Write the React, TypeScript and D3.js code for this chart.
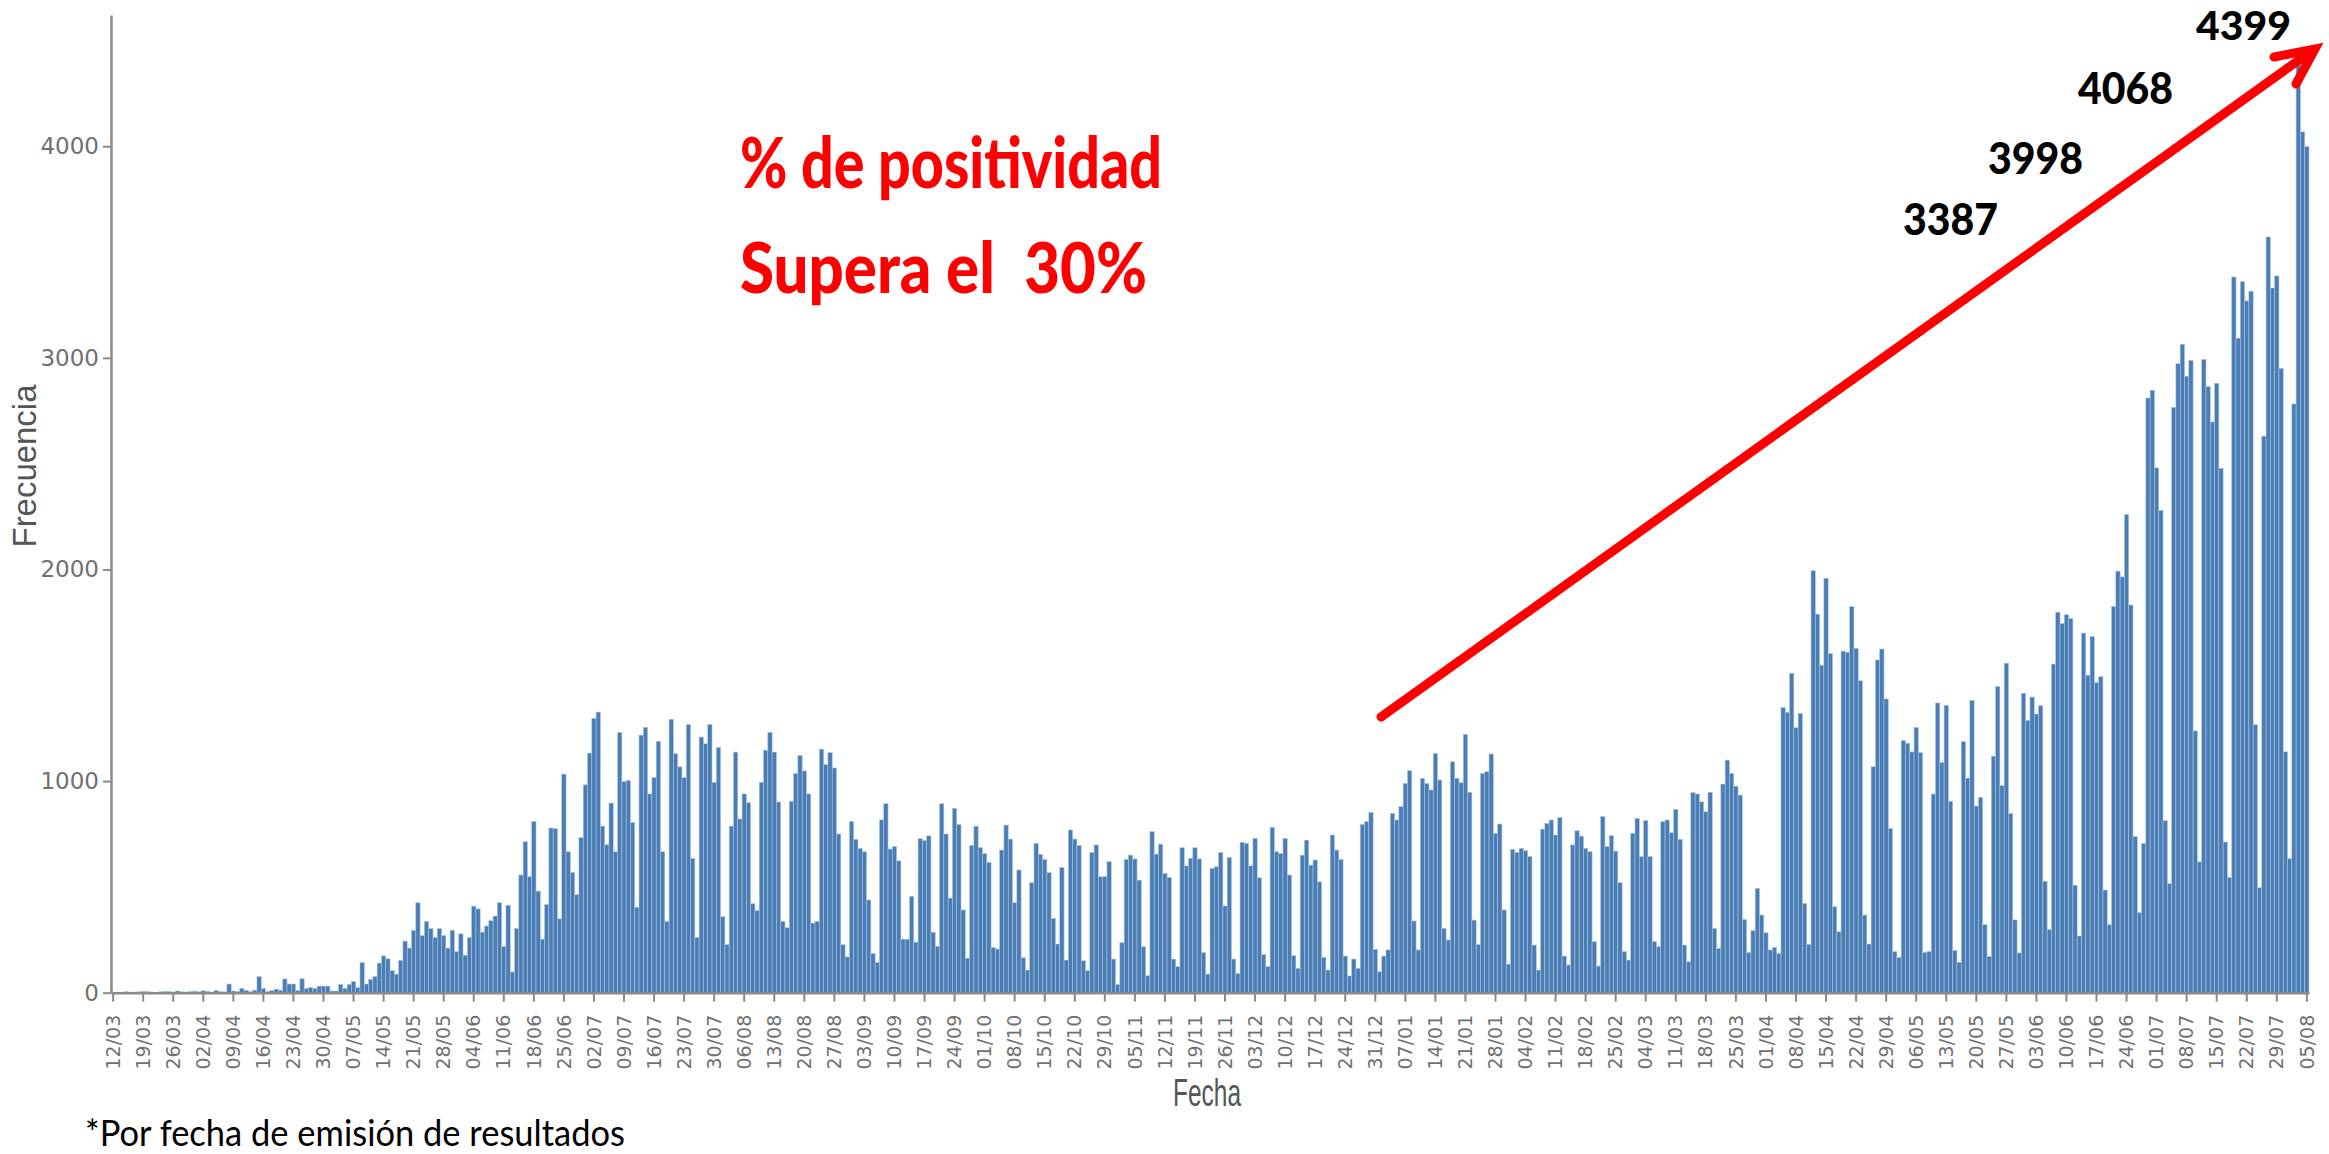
import React, { useEffect, useRef } from "react";
import * as d3 from "d3";

// daily counts by result date, first day = 12/03/2020
const startDate = new Date(2020, 2, 12);

const mar2020 = [2, 3, 1, 5, 2, 3, 4, 6, 5, 3, 2, 4, 6, 5, 3, 8, 4, 3, 5, 7];
const apr2020 = [4, 9, 6, 3, 10, 5, 4, 41, 8, 6, 20, 10, 5, 12, 76, 20, 6, 10, 17, 12, 65, 41, 41, 10, 66, 20, 25, 20, 31, 31];
const may2020 = [31, 8, 8, 39, 20, 39, 52, 24, 142, 41, 63, 76, 140, 174, 160, 104, 88, 152, 244, 211, 295, 425, 270, 337, 303, 261, 303, 270, 211, 295, 194];
const jun2020 = [278, 177, 261, 409, 396, 286, 315, 340, 362, 425, 219, 413, 98, 303, 556, 713, 548, 809, 480, 253, 416, 778, 775, 349, 1033, 666, 568, 463, 733, 982];
const jul2020 = [1132, 1297, 1326, 787, 699, 896, 666, 1230, 998, 1003, 804, 404, 1217, 1254, 939, 1016, 1188, 666, 337, 1292, 1129, 1067, 1016, 1267, 635, 261, 1208, 1176, 1267, 994, 1159];
const aug2020 = [359, 227, 787, 1137, 821, 939, 898, 421, 388, 994, 1146, 1230, 1137, 901, 337, 307, 905, 1036, 1121, 1048, 939, 329, 337, 1151, 1078, 1134, 1062, 750, 227, 169, 809];
const sep2020 = [725, 682, 666, 438, 185, 143, 817, 893, 679, 691, 623, 253, 253, 455, 239, 728, 719, 741, 286, 219, 893, 750, 447, 871, 795, 391, 163, 696, 787, 686];
const oct2020 = [658, 616, 213, 206, 674, 792, 726, 425, 580, 165, 107, 520, 706, 654, 630, 567, 351, 230, 592, 154, 769, 726, 695, 151, 104, 663, 698, 548, 548, 619, 159];
const nov2020 = [39, 236, 630, 650, 632, 532, 217, 80, 761, 655, 702, 564, 545, 159, 123, 685, 599, 635, 685, 632, 189, 88, 587, 595, 663, 410, 639, 159, 91, 710];
const dec2020 = [706, 599, 729, 543, 181, 123, 781, 666, 658, 729, 556, 175, 115, 650, 721, 603, 627, 524, 167, 107, 745, 674, 630, 173, 79, 159, 115, 795, 808, 852, 205];
const jan2021 = [99, 173, 202, 847, 816, 879, 989, 1049, 339, 202, 1013, 989, 958, 1131, 1005, 304, 249, 1091, 1013, 992, 1221, 947, 343, 228, 1036, 1044, 1128, 753, 797, 391, 135];
const feb2021 = [677, 663, 682, 671, 643, 225, 107, 773, 800, 816, 745, 828, 173, 131, 698, 765, 740, 682, 666, 241, 126, 832, 690, 742, 669, 520, 194, 154];
const mar2021 = [753, 824, 643, 813, 643, 241, 217, 808, 816, 756, 866, 725, 225, 146, 945, 939, 902, 855, 947, 304, 209, 986, 1099, 1036, 976, 934, 346, 189, 293, 493, 367];
const apr2021 = [283, 202, 214, 186, 1348, 1325, 1509, 1252, 1320, 422, 228, 1994, 1789, 1548, 1958, 1603, 406, 288, 1614, 1608, 1824, 1627, 1474, 367, 230, 1068, 1572, 1624, 1388, 776];
const may2021 = [194, 167, 1191, 1179, 1138, 1253, 1134, 190, 195, 939, 1369, 1088, 1358, 905, 199, 144, 1186, 1014, 1381, 882, 923, 321, 172, 1118, 1447, 978, 1557, 847, 344, 188, 1415];
const jun2021 = [1287, 1397, 1317, 1356, 527, 298, 1553, 1798, 1745, 1786, 1768, 508, 268, 1699, 1500, 1683, 1466, 1493, 485, 321, 1825, 1992, 1965, 2260, 1832, 737, 378, 705, 2810, 2847];
const jul2021 = [2480, 2279, 813, 515, 2766, 2972, 3064, 2913, 2988, 1237, 618, 2992, 2864, 2697, 2880, 2478, 712, 545, 3382, 3093, 3360, 3269, 3315, 1266, 496, 2630, 3571, 3330, 3387, 2950, 1138];
const aug2021 = [633, 2782, 4399, 4068, 3998];

const dailyCounts = [
  ...mar2020, ...apr2020, ...may2020, ...jun2020, ...jul2020, ...aug2020,
  ...sep2020, ...oct2020, ...nov2020, ...dec2020, ...jan2021, ...feb2021,
  ...mar2021, ...apr2021, ...may2021, ...jun2021, ...jul2021, ...aug2021
];

const yTicks = [0, 1000, 2000, 3000, 4000];
const tickEveryDays = 7;

const titleLines = ["% de positividad", "Supera el  30%"];
const callouts = ["3387", "3998", "4068", "4399"];
const yLabel = "Frecuencia";
const xLabel = "Fecha";
const footnote = "*Por fecha de emisión de resultados";

const W = 2329;
const H = 1154;

function App() {
  const svgRef = useRef<SVGSVGElement>(null);

  useEffect(() => {
    document.body.style.margin = "0";
    const svg = d3.select(svgRef.current);
    svg.selectAll("*").remove();

    const dates = d3.timeDay.range(startDate, d3.timeDay.offset(startDate, dailyCounts.length));
    const keyFmt = d3.timeFormat("%Y-%m-%d");
    const labelFmt = d3.timeFormat("%d/%m");
    const rows = dates.map((d, i) => ({ key: keyFmt(d), date: d, value: dailyCounts[i] }));

    // scales
    const x = d3.scaleBand<string>()
      .domain(rows.map(r => r.key))
      .range([111, 2309])
      .padding(0);
    const y = d3.scaleLinear().domain([0, 4620]).range([992.7, 15]);

    // bars
    svg.append("g")
      .selectAll("rect")
      .data(rows)
      .join("rect")
      .attr("x", r => x(r.key)!)
      .attr("width", x.bandwidth())
      .attr("y", r => y(r.value))
      .attr("height", r => y(0) - y(r.value))
      .attr("fill", "#4a7db4")
      .attr("stroke", "#a8c4e2")
      .attr("stroke-width", 0.6);

    // y axis
    const yAxis = svg.append("g")
      .attr("transform", "translate(111,0)")
      .call(d3.axisLeft(y).tickValues(yTicks).tickSize(8).tickSizeOuter(0).tickPadding(4).tickFormat(d3.format("d")));
    yAxis.select(".domain").attr("stroke", "#8a8a8a").attr("stroke-width", 2.5);
    yAxis.selectAll(".tick line").attr("stroke", "#8a8a8a").attr("stroke-width", 2);
    yAxis.selectAll(".tick text")
      .attr("fill", "#707070")
      .attr("font-family", "'DejaVu Sans', Verdana, sans-serif")
      .attr("font-size", 23);

    // x axis, a tick each week
    const tickKeys = rows.filter((_, i) => i % tickEveryDays === 0).map(r => r.key);
    const byKey = new Map(rows.map(r => [r.key, r.date]));
    const xAxis = svg.append("g")
      .attr("transform", "translate(0,992.7)")
      .call(d3.axisBottom(x).tickValues(tickKeys).tickSize(9).tickSizeOuter(0)
        .tickFormat(k => labelFmt(byKey.get(k as string)!)));
    xAxis.select(".domain").attr("stroke", "#8a8a8a").attr("stroke-width", 2.5);
    xAxis.selectAll(".tick line").attr("stroke", "#8a8a8a").attr("stroke-width", 2);
    xAxis.selectAll(".tick text")
      .attr("transform", "rotate(-90)")
      .attr("text-anchor", "end")
      .attr("x", -22)
      .attr("y", 0)
      .attr("dy", "0.35em")
      .attr("fill", "#707070")
      .attr("font-family", "'DejaVu Sans', Verdana, sans-serif")
      .attr("font-size", 19);

    // axis titles
    svg.append("text")
      .attr("transform", "translate(24,466) rotate(-90)")
      .attr("text-anchor", "middle")
      .attr("dominant-baseline", "central")
      .attr("font-family", "'Liberation Sans', Arial, sans-serif")
      .attr("font-size", 33)
      .attr("textLength", 163)
      .attr("lengthAdjust", "spacingAndGlyphs")
      .attr("fill", "#555")
      .text(yLabel);

    svg.append("text")
      .attr("x", 1207)
      .attr("y", 1106)
      .attr("text-anchor", "middle")
      .attr("font-family", "'Liberation Sans', Arial, sans-serif")
      .attr("font-size", 38)
      .attr("textLength", 68)
      .attr("lengthAdjust", "spacingAndGlyphs")
      .attr("fill", "#555")
      .text(xLabel);

    svg.append("text")
      .attr("x", 85)
      .attr("y", 1146)
      .attr("font-family", "Lato, 'Open Sans', sans-serif")
      .attr("font-size", 37)
      .attr("textLength", 540)
      .attr("lengthAdjust", "spacingAndGlyphs")
      .attr("fill", "#000")
      .text(footnote);

    // red headline
    const titlePos = [{ x: 740, y: 188, w: 422 }, { x: 740, y: 293, w: 407 }];
    svg.append("g")
      .selectAll("text")
      .data(titleLines)
      .join("text")
      .attr("x", (_, i) => titlePos[i].x)
      .attr("y", (_, i) => titlePos[i].y)
      .attr("textLength", (_, i) => titlePos[i].w)
      .attr("lengthAdjust", "spacingAndGlyphs")
      .style("white-space", "pre")
      .attr("font-family", "Lato, 'Open Sans', sans-serif")
      .attr("font-weight", 900)
      .attr("font-size", 70)
      .attr("fill", "#ff0000")
      .text(d => d);

    // red trend arrow
    const arrow = svg.append("g")
      .attr("stroke", "#ff0000")
      .attr("stroke-width", 9)
      .attr("stroke-linecap", "round")
      .attr("fill", "none");
    arrow.append("path").attr("d", "M1381,717 L2313,50");
    arrow.append("path").attr("d", "M2274,57 L2315,49 L2296,84");

    // black callouts of latest values
    const calloutPos = [
      { x: 1903, y: 235, s: 44 }, { x: 1988, y: 174, s: 44 }, { x: 2078, y: 104, s: 44 }, { x: 2196, y: 40, s: 40 }
    ];
    svg.append("g")
      .selectAll("text")
      .data(callouts)
      .join("text")
      .attr("x", (_, i) => calloutPos[i].x)
      .attr("y", (_, i) => calloutPos[i].y)
      .attr("font-size", (_, i) => calloutPos[i].s)
      .attr("textLength", 95)
      .attr("lengthAdjust", "spacingAndGlyphs")
      .attr("font-family", "Lato, 'Open Sans', sans-serif")
      .attr("font-weight", 900)
      .attr("fill", "#000")
      .text(d => d);
  }, []);

  return (
    <svg ref={svgRef} width={W} height={H} style={{ display: "block", background: "#fff" }} />
  );
}

export default App;
